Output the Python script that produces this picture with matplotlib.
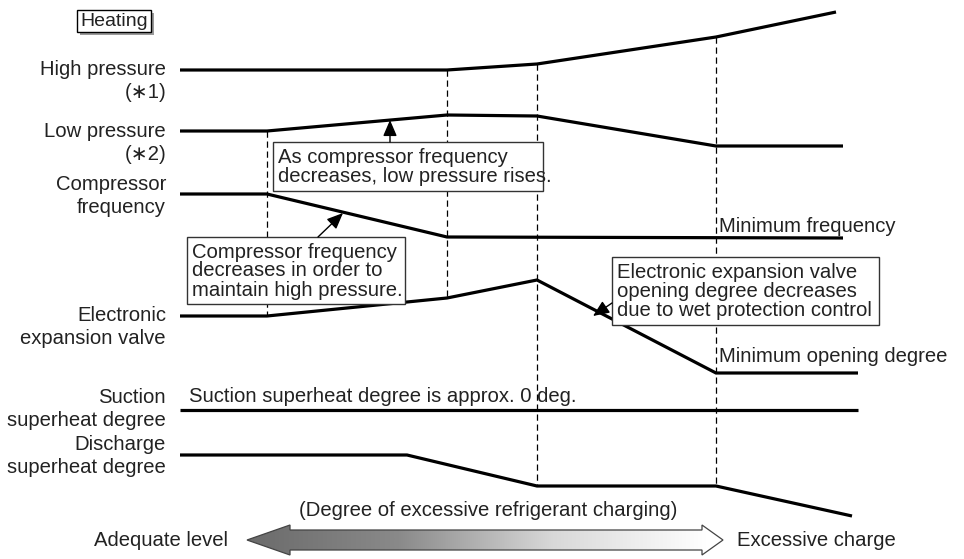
import numpy as np
import matplotlib
matplotlib.use("Agg")
import matplotlib.pyplot as plt
from matplotlib.patches import Rectangle, Polygon
from matplotlib.colors import LinearSegmentedColormap

plt.rcParams['font.family'] = ['Liberation Sans', 'DejaVu Sans']

# ---- data (schematic trend lines, x = charging stage position, y = level in drawing units) ----
hp_x = [180, 447, 537, 716, 836]
hp_y = [70, 70, 64, 37, 12]
lp_x = [180, 267, 447, 537, 716, 843]
lp_y = [131, 131, 115, 116, 146, 146]
cf_x = [180, 267, 447, 843]
cf_y = [194, 194, 237, 238]
eev_x = [180, 267, 447, 537, 716, 858]
eev_y = [316, 316, 298, 280, 373, 373]
ssh_x = [180, 858]
ssh_y = [410, 410]
dsh_x = [180, 407, 537, 716, 852]
dsh_y = [455, 455, 486, 486, 516]

stage_x = [267, 447, 537, 716]
stage_top = [131, 70, 64, 37]
stage_bottom = [316, 298, 486, 486]

row_labels = ["High pressure\n(\u22171)", "Low pressure\n(\u22172)", "Compressor\nfrequency",
              "Electronic\nexpansion valve", "Suction\nsuperheat degree", "Discharge\nsuperheat degree"]
row_label_y = [81, 143, 196, 327, 409, 456]

W, H = 964, 559
fig = plt.figure(figsize=(W / 100, H / 100), dpi=100)
ax = fig.add_axes([0, 0, 1, 1])
ax.set_xlim(0, W)
ax.set_ylim(H, 0)
ax.axis('off')

TXT = '#222222'
FS = 14.6

for xs, ys in [(hp_x, hp_y), (lp_x, lp_y), (cf_x, cf_y), (eev_x, eev_y), (ssh_x, ssh_y), (dsh_x, dsh_y)]:
    ax.plot(xs, ys, color='black', lw=2.3, solid_joinstyle='miter', solid_capstyle='butt', zorder=3)

for x, t, b in zip(stage_x, stage_top, stage_bottom):
    ax.plot([x, x], [t, b], color='black', lw=0.9, ls=(0, (5, 3)), zorder=2)

for lab, y in zip(row_labels, row_label_y):
    ax.text(166, y, lab, ha='right', va='center', fontsize=FS, color=TXT, linespacing=1.22)

# Heating box
ax.add_patch(Rectangle((80, 13), 74, 22, facecolor='#9a9a9a', edgecolor='none', zorder=1))
ax.add_patch(Rectangle((77, 10), 74, 22, facecolor='white', edgecolor='black', lw=1.0, zorder=2))
ax.text(114, 21.5, "Heating", ha='center', va='center', fontsize=14, color=TXT, zorder=3)

# annotation boxes
boxes = [
    ((273, 142, 270, 49), "As compressor frequency\ndecreases, low pressure rises."),
    ((187, 237, 218, 67), "Compressor frequency\ndecreases in order to\nmaintain high pressure."),
    ((612, 257, 267, 68), "Electronic expansion valve\nopening degree decreases\ndue to wet protection control"),
]
for (x0, y0, w, h), txt in boxes:
    ax.add_patch(Rectangle((x0, y0), w, h, facecolor='white', edgecolor='#333333', lw=1.0, zorder=4))
    ax.text(x0 + 5, y0 + h / 2 + 0.5, txt, ha='left', va='center', fontsize=FS, color=TXT,
            linespacing=1.0, zorder=5)

arrows = [((390, 142), (390, 120)), ((318, 237), (343, 213)), ((612, 303), (593, 316))]
for tail, tip in arrows:
    ax.annotate("", xy=tip, xytext=tail,
                arrowprops=dict(arrowstyle='-|>,head_length=0.7,head_width=0.3', lw=1.0,
                                mutation_scale=14, color='black', shrinkA=0, shrinkB=0), zorder=6)

ax.text(719, 226, "Minimum frequency", ha='left', va='center', fontsize=FS, color=TXT)
ax.text(719, 356, "Minimum opening degree", ha='left', va='center', fontsize=FS, color=TXT)
ax.text(189, 396, "Suction superheat degree is approx. 0 deg.", ha='left', va='center',
        fontsize=FS, color=TXT, zorder=1)

# bottom gradient arrow
ax.text(488, 511, "(Degree of excessive refrigerant charging)", ha='center', va='center',
        fontsize=FS, color=TXT)
ax.text(228, 541, "Adequate level", ha='right', va='center', fontsize=FS, color=TXT)
ax.text(737, 541, "Excessive charge", ha='left', va='center', fontsize=FS, color=TXT)

ax_l, ax_r, yc = 247, 723, 540
hd_l, hd_r = 290, 702
verts = [(ax_l, yc), (hd_l, 525), (hd_l, 530), (hd_r, 530), (hd_r, 525), (ax_r, yc),
         (hd_r, 555), (hd_r, 550), (hd_l, 550), (hd_l, 555)]
poly = Polygon(verts, closed=True, facecolor='none', edgecolor='#444444', lw=0.9, zorder=3)
ax.add_patch(poly)
grad = np.linspace(0, 1, 256)[None, :]
cm = LinearSegmentedColormap.from_list('g', ['#6a6a6a', '#8a8a8a', '#d8d8d8', '#ffffff'])
im = ax.imshow(grad, extent=(hd_l - 45, hd_r + 5, 556, 524), cmap=cm, aspect='auto', zorder=2,
               interpolation='bilinear')
clip = Polygon(verts, closed=True, transform=ax.transData)
im.set_clip_path(clip)
ax.set_xlim(0, W)
ax.set_ylim(H, 0)

fig.savefig("out.png", dpi=100)
